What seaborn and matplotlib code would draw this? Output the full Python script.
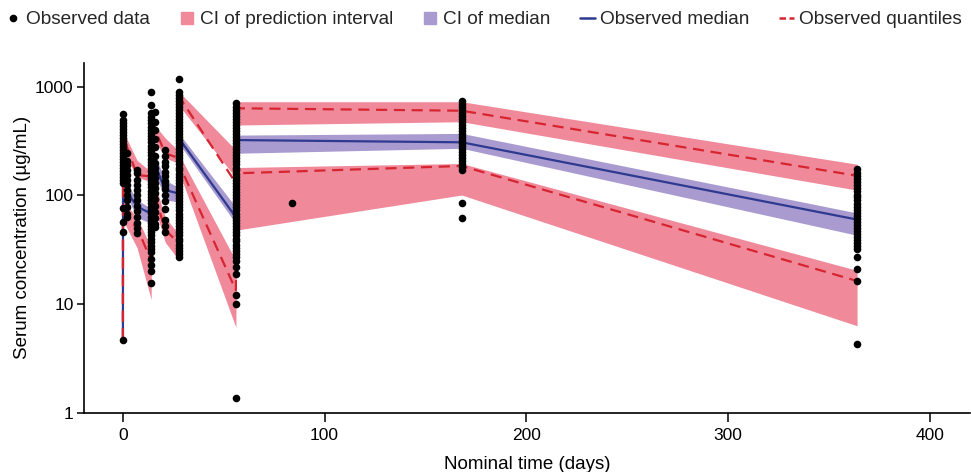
import numpy as np
import pandas as pd
import seaborn as sns
import matplotlib
matplotlib.use("Agg")
import matplotlib.pyplot as plt
from matplotlib.lines import Line2D

# ---- VPC summary per time bin (days) ----
bin_time = [0, 0.05, 2, 7, 14, 14.4, 16, 21, 28, 28.4, 56, 56.4, 168, 364]

obs_p95 = [4.7, 430, 280, 154, 150, 517, 400, 245, 220, 787, 130, 636, 604, 152]
p95_ci_lo = [4.2, 300, 220, 148, 133, 400, 320, 221, 197, 654, 145, 446, 478, 112]
p95_ci_hi = [5.5, 530, 330, 211, 164, 575, 440, 338, 253, 880, 262, 731, 731, 194]

obs_median = [4.7, 228, 108, 79, 68, 262, 190, 112, 104, 324, 63, 324, 309, 60]
med_ci_lo = [4.3, 180, 97, 63, 55, 226, 160, 91, 87, 291, 55, 245, 272, 43]
med_ci_hi = [5.2, 270, 130, 91, 76, 305, 230, 139, 117, 360, 78, 360, 373, 69]

obs_p5 = [4.7, 69, 60, 51, 25, 145, 97, 48, 36, 184, 13.4, 160, 187, 16.3]
p5_ci_lo = [2.8, 60, 50, 33, 11, 119, 75, 37, 25, 154, 6.1, 48, 101, 6.3]
p5_ci_hi = [5.3, 110, 80, 63, 33, 171, 125, 63, 43, 228, 25, 181, 197, 20.4]

# ---- observed concentrations by nominal time ----
obs_day0 = [4.7, 46, 57, 76, 130, 139, 148, 158, 168, 179, 191, 204, 217, 232, 247,
            263, 281, 300, 320, 340, 362, 385, 410, 440, 470, 500, 560]
obs_day2 = [63, 68, 78, 90, 100, 112, 125, 140, 155, 170, 190, 210, 245]
obs_day7 = [45, 50, 56, 63, 72, 80, 90, 100, 112, 125, 140, 160, 171]
obs_day14 = [15.5, 20, 23, 26, 30, 32, 34.5, 37, 40, 43, 46, 49, 52.5, 56, 60, 64, 69,
             74, 79, 85, 91, 97, 104, 111, 119, 127, 136, 146, 156, 167, 179, 191, 205,
             219, 235, 251, 269, 288, 308, 330, 353, 378, 404, 432, 463, 495, 530, 575,
             680, 900]
obs_day16 = [51, 55, 62, 70, 80, 92, 105, 118, 130, 145, 160, 180, 200, 230, 280, 330,
             400, 480, 590]
obs_day21 = [46, 52, 60, 75, 88, 100, 115, 124, 135, 150, 165, 185, 205, 230, 262]
obs_day28 = [27, 29, 31, 33, 35, 38, 40, 43, 46, 49, 52, 56, 60, 64, 68, 73, 78, 83, 89,
             95, 101, 108, 115, 123, 131, 140, 149, 159, 170, 181, 193, 206, 220, 235,
             250, 267, 285, 304, 324, 345, 368, 393, 419, 447, 477, 508, 542, 578, 616,
             657, 700, 746, 790, 840, 900, 1185]
obs_day56 = [1.35, 10, 12, 19, 22, 25, 27, 29, 31, 33, 35, 38, 40, 43, 46, 49, 52, 56,
             60, 64, 68, 73, 78, 83, 89, 95, 101, 108, 115, 123, 131, 140, 149, 159, 170,
             181, 193, 206, 220, 235, 250, 267, 285, 304, 324, 345, 368, 393, 419, 447,
             477, 508, 542, 578, 616, 657, 712]
obs_day84 = [85]
obs_day168 = [62, 85, 171, 182, 194, 207, 220, 235, 250, 267, 285, 304, 324, 345, 368,
              393, 419, 447, 477, 508, 542, 578, 616, 657, 700, 746]
obs_day364 = [4.3, 16.3, 21, 27, 32, 34, 36.5, 39, 41.5, 44, 47, 50, 53.5, 57, 61, 65,
              69, 74, 79, 84, 90, 96, 102, 109, 116, 124, 132, 141, 150, 160, 174]

obs_groups = {0: obs_day0, 2: obs_day2, 7: obs_day7, 14: obs_day14, 16: obs_day16,
              21: obs_day21, 28: obs_day28, 56: obs_day56, 84: obs_day84,
              168: obs_day168, 364: obs_day364}

obs = pd.DataFrame([(t, c) for t, vals in obs_groups.items() for c in vals],
                   columns=["time", "conc"])
vpc = pd.DataFrame({"time": bin_time, "p95": obs_p95, "median": obs_median, "p5": obs_p5})

pink = "#F08A9B"
purple = "#A99BD0"
navy = "#2E3A8F"
red = "#D62530"

sns.set_theme(style="ticks")
plt.rcParams["font.family"] = ["Liberation Sans", "DejaVu Sans"]

fig = plt.figure(figsize=(9.71, 4.72), dpi=100)
ax = fig.add_axes([0.0865, 0.126, 0.9125, 0.741])

# confidence bands
ax.fill_between(bin_time, p95_ci_lo, p95_ci_hi, color=pink, linewidth=0, zorder=1)
ax.fill_between(bin_time, p5_ci_lo, p5_ci_hi, color=pink, linewidth=0, zorder=1)
ax.fill_between(bin_time, med_ci_lo, med_ci_hi, color=purple, linewidth=0, zorder=1)

# observed summary lines
sns.lineplot(data=vpc, x="time", y="median", color=navy, lw=1.6, sort=False,
             estimator=None, ax=ax, zorder=2)
for col in ["p95", "p5"]:
    sns.lineplot(data=vpc, x="time", y=col, color=red, lw=1.6, sort=False,
                 estimator=None, ax=ax, zorder=2)
    ax.lines[-1].set_linestyle((0, (5, 3)))

# observed data
sns.scatterplot(data=obs, x="time", y="conc", color="black", s=30, linewidth=0,
                ax=ax, zorder=3)

ax.set_yscale("log")
ax.set_ylim(1, 1670)
ax.set_xlim(-19.3, 420)
ax.set_yticks([1, 10, 100, 1000])
ax.set_yticklabels(["1", "10", "100", "1000"])
ax.yaxis.set_minor_locator(matplotlib.ticker.NullLocator())
ax.set_xticks([0, 100, 200, 300, 400])
ax.tick_params(axis="both", labelsize=12.5, width=1.1, color="black",
               labelcolor="black")
ax.tick_params(axis="y", length=5, pad=2.5)
ax.tick_params(axis="x", length=6.3, pad=5)
for s in ["left", "bottom"]:
    ax.spines[s].set_linewidth(1.2)
    ax.spines[s].set_color("black")
sns.despine(ax=ax)
ax.set_xlabel("Nominal time (days)", fontsize=13.5, color="black", labelpad=9)
ax.set_ylabel("Serum concentration (µg/mL)", fontsize=13.5, color="black", labelpad=3)

handles = [
    Line2D([], [], marker="o", color="black", linestyle="none", markersize=4.5),
    Line2D([], [], marker="s", color=pink, linestyle="none", markersize=8),
    Line2D([], [], marker="s", color=purple, linestyle="none", markersize=8),
    Line2D([], [], color=navy, lw=1.8),
    Line2D([], [], color=red, lw=1.8, linestyle=(0, (2.6, 1.4))),
]
labels = ["Observed data", "CI of prediction interval", "CI of median",
          "Observed median", "Observed quantiles"]
fig.legend(handles, labels, loc="upper left", bbox_to_anchor=(-0.008, 1.005), ncol=5,
           frameon=False, fontsize=13.7, handlelength=0.8, handletextpad=0.27,
           columnspacing=1.55, borderaxespad=0.3)

fig.savefig("out.png", dpi=100)
